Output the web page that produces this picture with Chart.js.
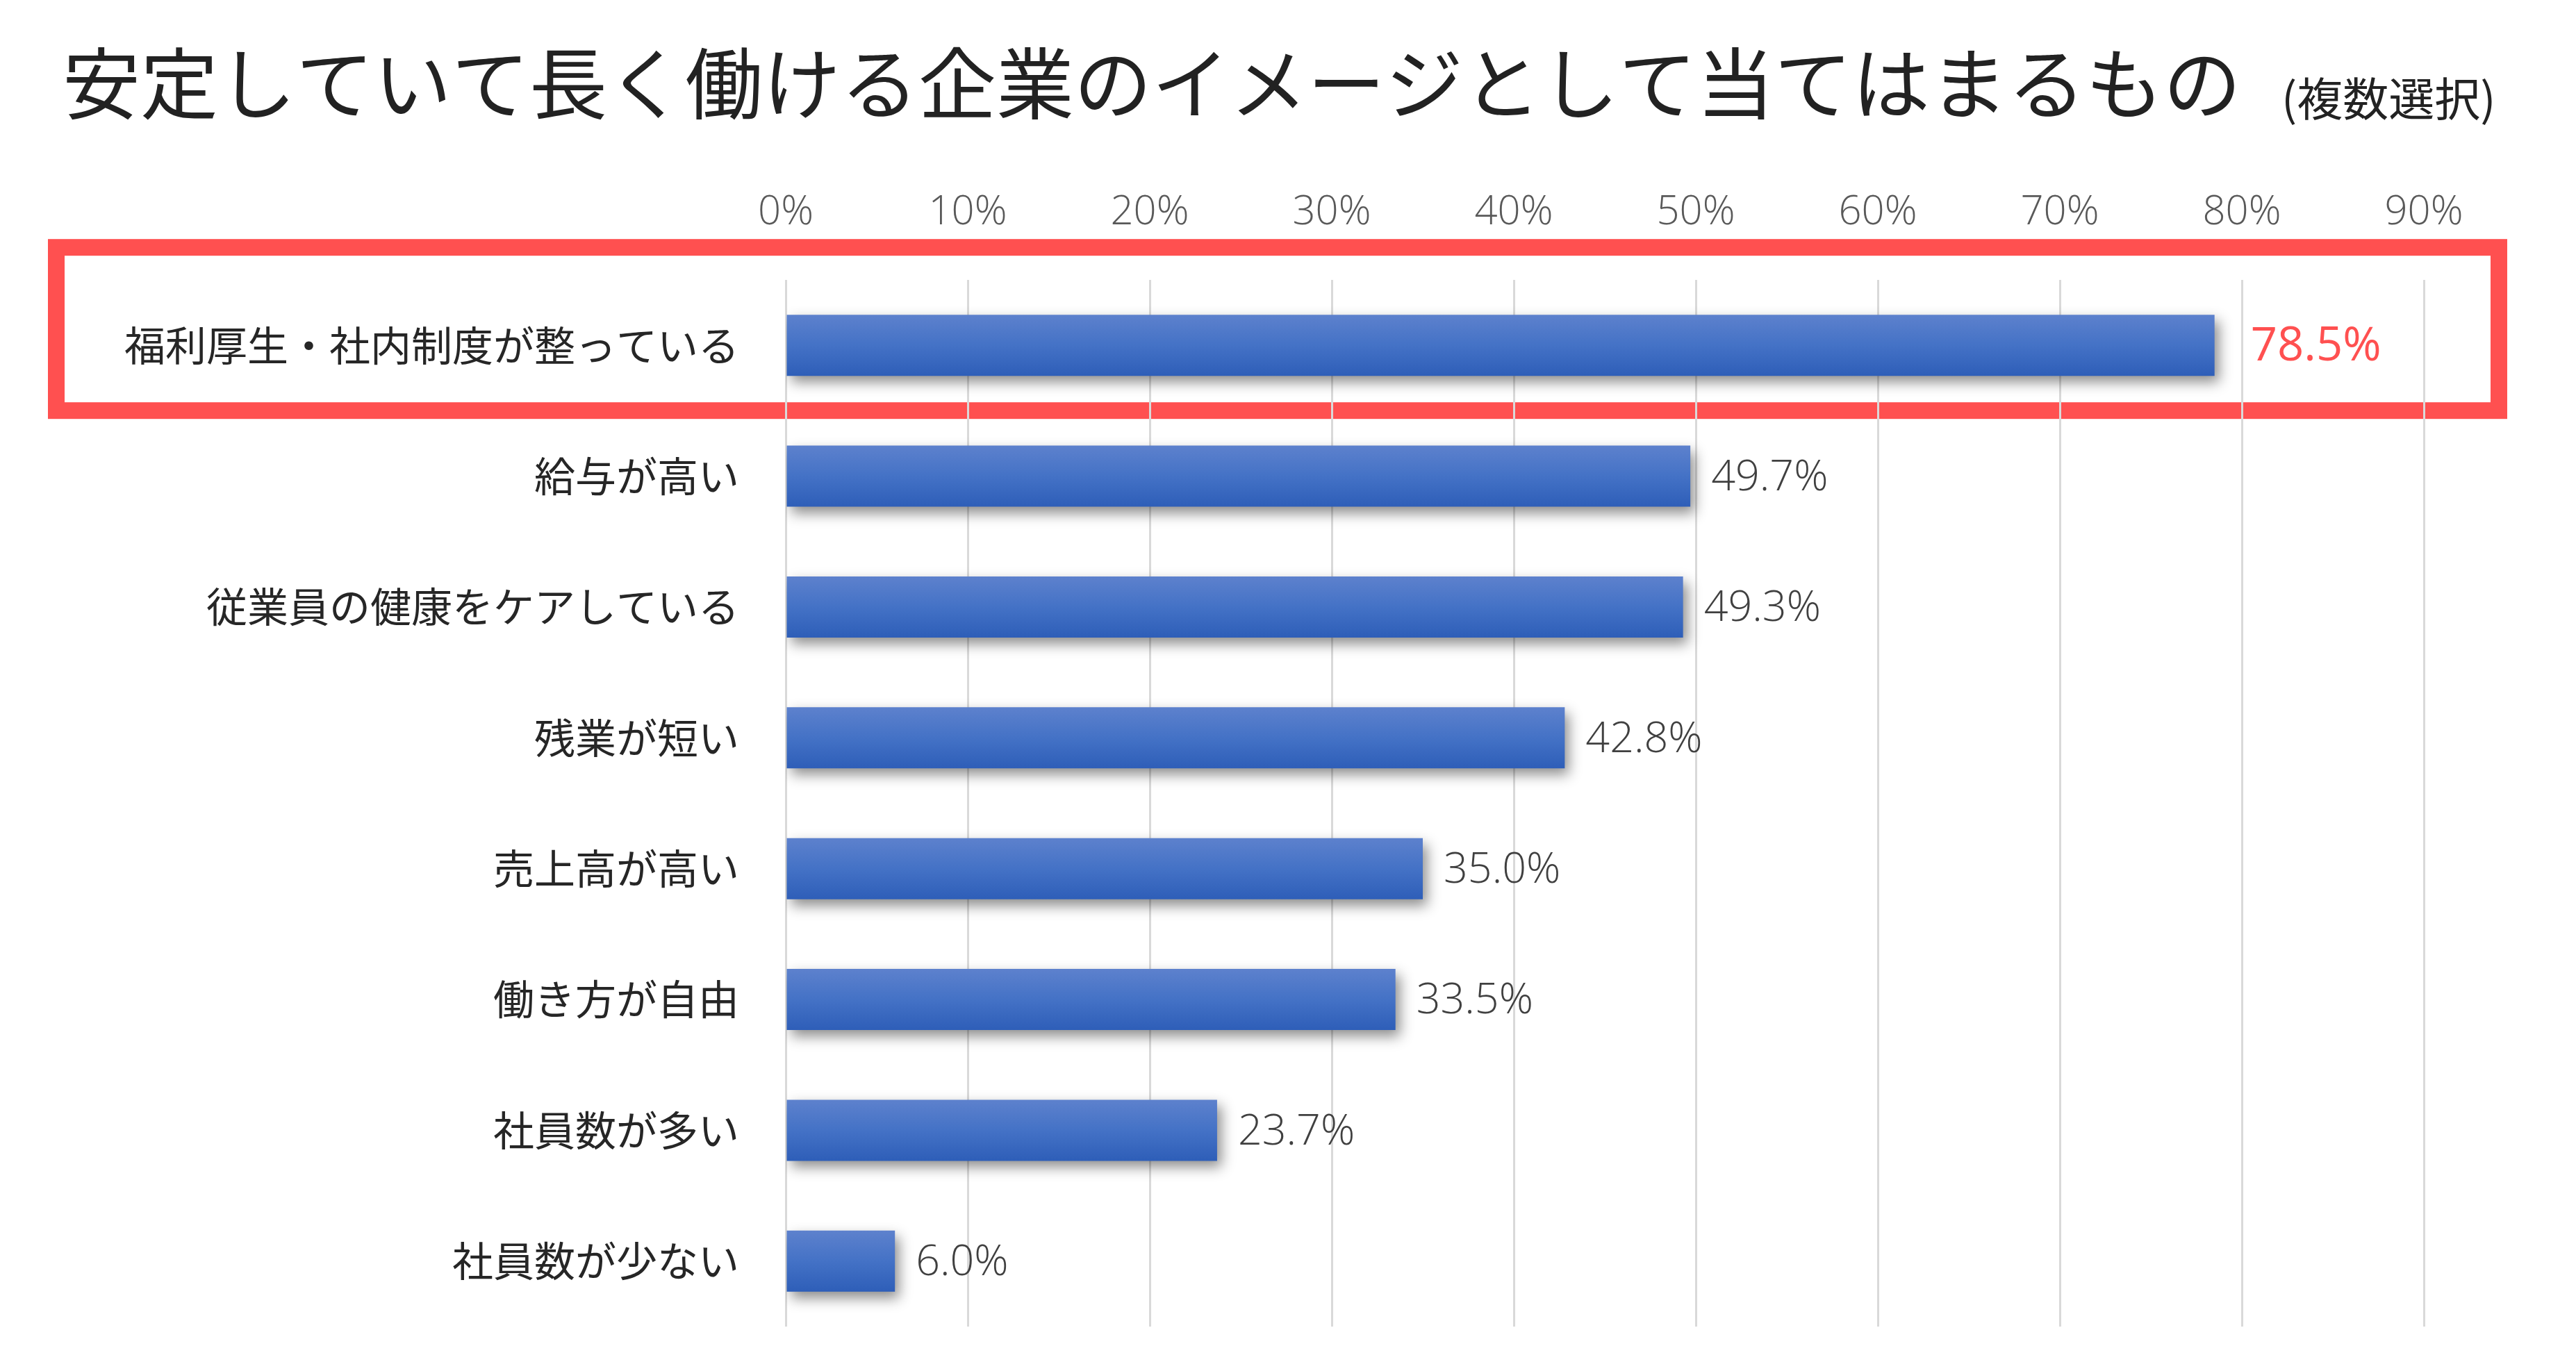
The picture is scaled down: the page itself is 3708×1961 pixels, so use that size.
<!DOCTYPE html>
<html lang="ja">
<head>
<meta charset="utf-8">
<script src="https://cdn.jsdelivr.net/npm/chart.js@4.4.0/dist/chart.umd.min.js"></script>
<style>
  html, body { margin: 0; padding: 0; background: #fff; }
  #wrap { width: 3708px; height: 1961px; }
</style>
</head>
<body>
<div id="wrap"><canvas id="chart" width="3708" height="1961"></canvas></div>
<script>
const categories = [
    '福利厚生・社内制度が整っている',
    '給与が高い',
    '従業員の健康をケアしている',
    '残業が短い',
    '売上高が高い',
    '働き方が自由',
    '社員数が多い',
    '社員数が少ない'
];
const shares = [78.5, 49.7, 49.3, 42.8, 35.0, 33.5, 23.7, 6.0];
const tickValues = [0, 10, 20, 30, 40, 50, 60, 70, 80, 90];
const titleText = '安定していて長く働ける企業のイメージとして当てはまるもの';
const subtitleText = '(複数選択)';

const barPct = 0.467;
const jpFont = '"Noto Sans CJK JP", "Noto Sans", sans-serif';
const numFont = '"Open Sans", "Noto Sans", sans-serif';
const red = '#FF5050';

// vertical gradient for each bar
const barGradient = (ctx) => {
    const chart = ctx.chart
    const y = chart.scales.y
    if (!y || ctx.dataIndex === undefined) return '#4472C4'
    const c = y.getPixelForValue(ctx.dataIndex)
    const h = (y.bottom - y.top) / categories.length * barPct / 2
    if (!isFinite(c) || !isFinite(h) || h <= 0) return '#4472C4'
    const g = chart.ctx.createLinearGradient(0, c - h, 0, c + h)
    g.addColorStop(0, '#5D81CD')
    g.addColorStop(0.5, '#4472C6')
    g.addColorStop(1, '#2E5EB8')
    return g
}

const titlePlugin = {
    id: 'titleText',
    afterDraw(chart) {
        const ctx = chart.ctx
        ctx.save()
        ctx.fillStyle = '#222222'
        ctx.textBaseline = 'alphabetic'
        ctx.textAlign = 'left'
        ctx.font = `400 112px ${jpFont}`
        ctx.fillText(titleText, 90, 163)
        ctx.font = `400 66px ${jpFont}`
        ctx.fillText(subtitleText, 3284, 167)
        ctx.restore()
    }
}

// red frame round the first category, under the grid
const highlightPlugin = {
    id: 'highlight',
    beforeDraw(chart) {
        const y = chart.scales.y
        const c = y.getPixelForValue(0)
        const ctx = chart.ctx
        ctx.save()
        ctx.strokeStyle = red
        ctx.lineWidth = 24
        ctx.strokeRect(81, c - 141, 3516, 235)
        ctx.restore()
    }
}

const shadowAndLabels = {
    id: 'shadowAndLabels',
    beforeDatasetsDraw(chart) {
        const ctx = chart.ctx
        ctx.save()
        ctx.shadowColor = 'rgba(0,0,0,0.45)'
        ctx.shadowBlur = 18
        ctx.shadowOffsetX = 6
        ctx.shadowOffsetY = 9
    },
    afterDatasetsDraw(chart) {
        const ctx = chart.ctx
        ctx.restore()
        const meta = chart.getDatasetMeta(0)
        ctx.save()
        ctx.textBaseline = 'middle'
        ctx.textAlign = 'left'
        meta.data.forEach((bar, i) => {
            let gap = 30
            if (i === 0) {
                ctx.fillStyle = red
                ctx.font = `400 67px ${numFont}`
                gap = 52
            } else {
                ctx.fillStyle = '#404040'
                ctx.font = `300 61px ${numFont}`
            }
            ctx.fillText(shares[i].toFixed(1) + '%', bar.x + gap, bar.y + 3)
        })
        ctx.restore()
    }
}

new Chart(document.getElementById('chart'), {
    type: 'bar',
    data: {
        labels: categories,
        datasets: [{
            data: shares,
            backgroundColor: barGradient,
            borderWidth: 0,
            categoryPercentage: 1,
            barPercentage: barPct
        }]
    },
    options: {
        indexAxis: 'y',
        responsive: false,
        devicePixelRatio: 1,
        animation: false,
        layout: { padding: { top: 250, right: 219, bottom: 51, left: 0 } },
        plugins: {
            legend: { display: false },
            title: { display: false },
            tooltip: { enabled: false }
        },
        scales: {
            x: {
                position: 'top',
                min: 0,
                max: 90,
                afterBuildTicks: (s) => { s.ticks = tickValues.map(v => ({ value: v })) },
                afterFit: (s) => { s.height = 153 },
                grid: { color: '#D9D9D9', lineWidth: 3, drawTicks: false },
                border: { display: false },
                ticks: {
                    callback: (v) => v + '%',
                    color: '#595959',
                    padding: 62,
                    font: { family: numFont, size: 58, weight: 300 }
                }
            },
            y: {
                afterFit: (s) => {
                    s.width = 1131
                    s.paddingTop = 0
                    s.paddingBottom = 0
                },
                grid: { display: false },
                border: { display: false },
                ticks: {
                    color: '#262626',
                    padding: 59,
                    font: { family: jpFont, size: 59, weight: 400 }
                }
            }
        }
    },
    plugins: [highlightPlugin, shadowAndLabels, titlePlugin]
})
</script>
</body>
</html>
